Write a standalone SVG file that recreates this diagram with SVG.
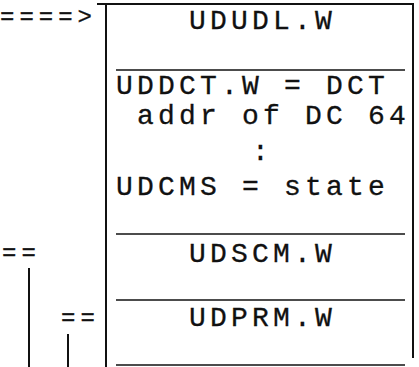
<svg xmlns="http://www.w3.org/2000/svg" width="419" height="367" viewBox="0 0 419 367">
<style>
text{font-family:"Liberation Mono","DejaVu Sans Mono",monospace;font-size:28px;fill:#111;letter-spacing:4.2px;stroke:#111;stroke-width:0.3}
text.eq{font-size:24px;letter-spacing:5px}
.frame{stroke:#111;stroke-width:2;fill:none}
.sep{stroke:#111;stroke-width:1.6;fill:none}
</style>
<rect width="419" height="367" fill="#fff"/>
<g id="frame">
<path class="frame" d="M97 4H413V358M106 4V367"/>
</g>
<g id="cell-ududl">
<text x="189" y="29">UDUDL.W</text>
<path class="sep" d="M116 70H405"/>
</g>
<g id="cell-dct">
<text x="116" y="94">UDDCT.W = DCT</text>
<text x="137" y="124">addr of DC 64</text>
<text x="252" y="160">:</text>
<text x="116" y="195">UDCMS = state</text>
<path class="sep" d="M116 234H405"/>
</g>
<g id="cell-udscm">
<text x="189" y="262">UDSCM.W</text>
<path class="sep" d="M116 300H405"/>
</g>
<g id="cell-udprm">
<text x="189" y="326">UDPRM.W</text>
<path class="sep" d="M116 365H405"/>
</g>
<g id="connectors">
<text class="eq" x="0" y="24">====&gt;</text>
<text class="eq" x="2" y="260">==</text>
<text class="eq" x="61" y="325">==</text>
<path class="frame" d="M29 268V367M68 334V367"/>
</g>
</svg>
